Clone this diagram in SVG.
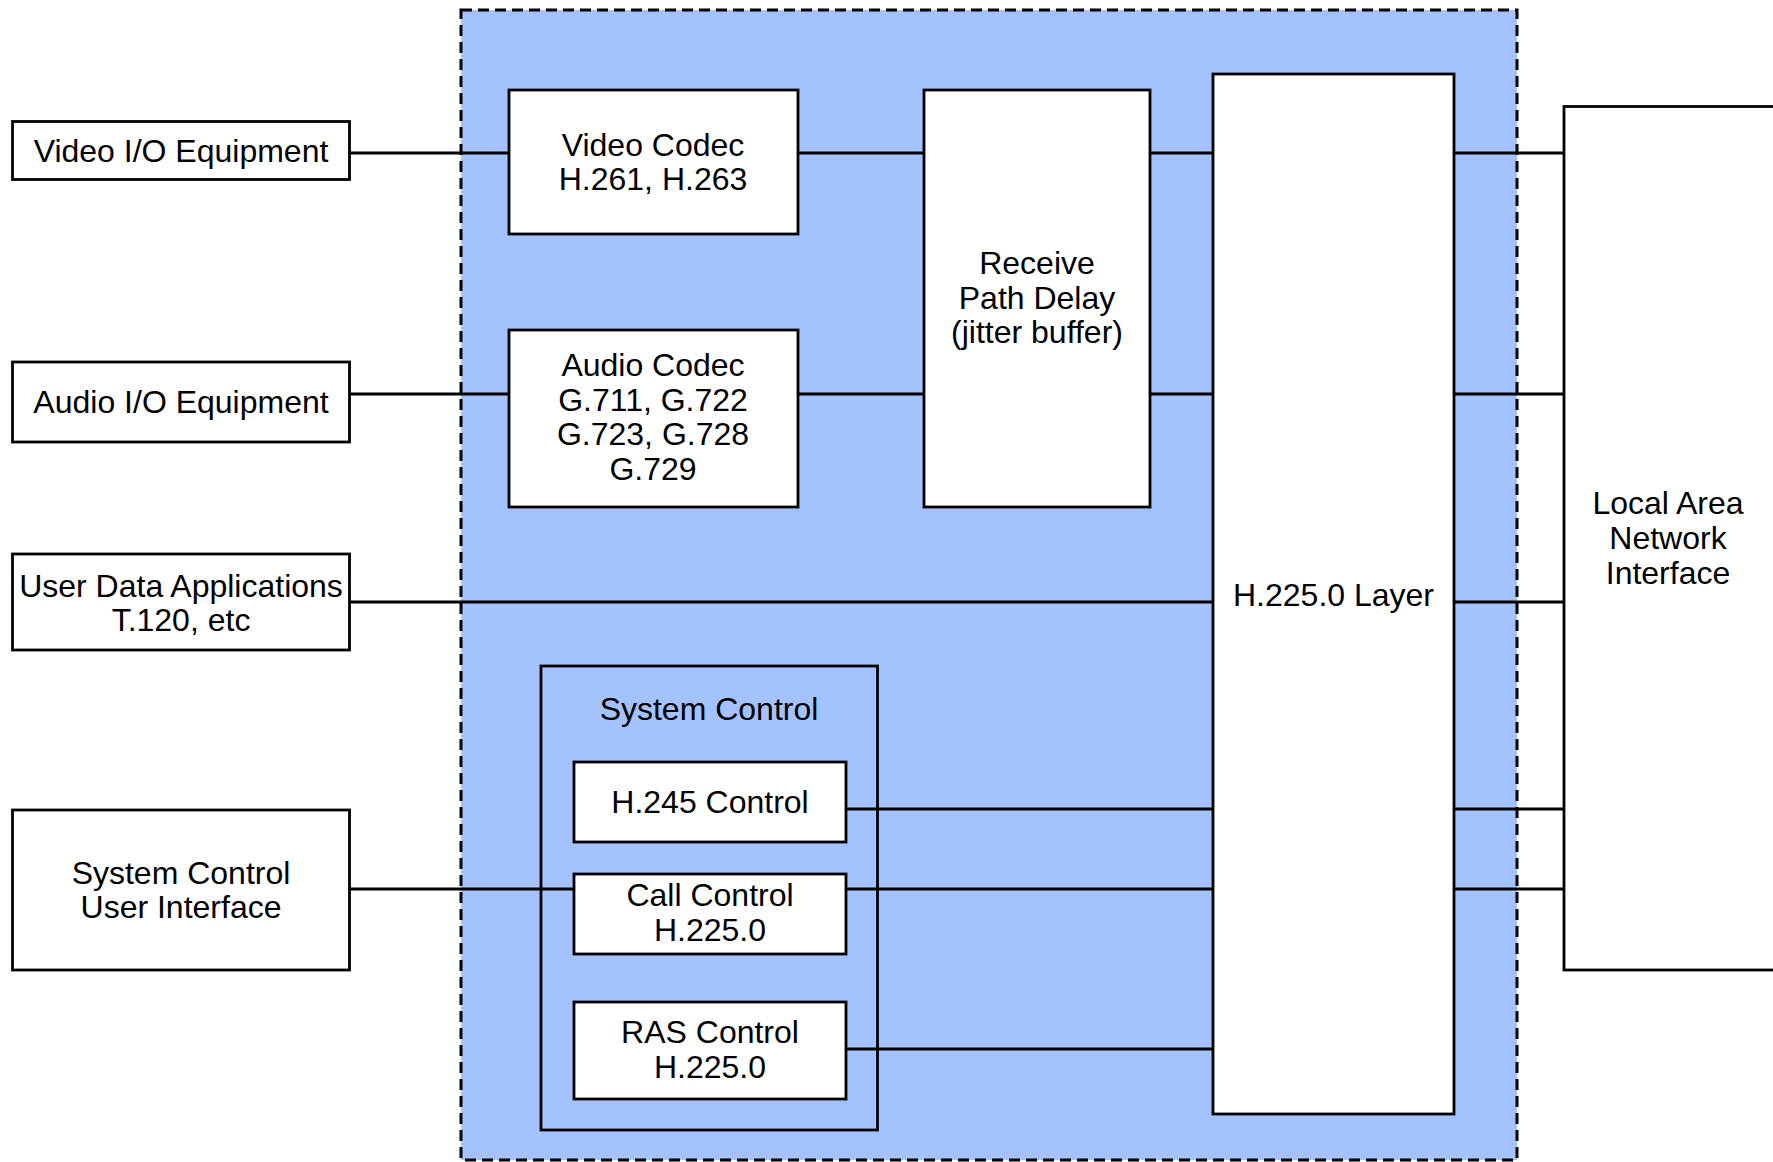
<svg xmlns="http://www.w3.org/2000/svg" width="1773" height="1162" viewBox="0 0 1773 1162">
<style>
.box{fill:#ffffff;stroke:#000000;stroke-width:2.8}
.cont{fill:none;stroke:#000000;stroke-width:2.8}
.conn{stroke:#000000;stroke-width:2.8;fill:none}
text{font-family:"Liberation Sans",Arial,sans-serif;font-size:32px;fill:#000000;text-anchor:middle}
</style>
<rect width="1773" height="1162" fill="#ffffff"/>
<g id="terminal">
<rect x="461" y="10" width="1056" height="1150" fill="#a4c2ff" stroke="#000000" stroke-width="3" stroke-dasharray="11 6"/>
</g>
<g id="connectors">
<path class="conn" d="M350,153H509M798,153H924M1150,153H1213M1454,153H1564"/>
<path class="conn" d="M350,394H509M798,394H924M1150,394H1213M1454,394H1564"/>
<path class="conn" d="M350,602H1213M1454,602H1564"/>
<path class="conn" d="M846,809H1213M1454,809H1564"/>
<path class="conn" d="M350,889H574M846,889H1213M1454,889H1564"/>
<path class="conn" d="M846,1049H1213"/>
</g>
<g id="video-io"><rect class="box" x="12.5" y="121.5" width="337" height="58"/><text x="181" y="162">Video I/O Equipment</text></g>
<g id="audio-io"><rect class="box" x="12.5" y="362" width="337" height="80"/><text x="181" y="413">Audio I/O Equipment</text></g>
<g id="user-data"><rect class="box" x="12.5" y="554" width="337" height="96"/><text x="181" y="597">User Data Applications</text><text x="181" y="631">T.120, etc</text></g>
<g id="scui"><rect class="box" x="12.5" y="810" width="337" height="160"/><text x="181" y="884">System Control</text><text x="181" y="918">User Interface</text></g>
<g id="video-codec"><rect class="box" x="509" y="90" width="289" height="144"/><text x="653" y="156">Video Codec</text><text x="653" y="190">H.261, H.263</text></g>
<g id="audio-codec"><rect class="box" x="509" y="330" width="289" height="177"/><text x="653" y="376">Audio Codec</text><text x="653" y="411">G.711, G.722</text><text x="653" y="445">G.723, G.728</text><text x="653" y="480">G.729</text></g>
<g id="receive-delay"><rect class="box" x="924" y="90" width="226" height="417"/><text x="1037" y="274">Receive</text><text x="1037" y="309">Path Delay</text><text x="1037" y="343">(jitter buffer)</text></g>
<g id="system-control"><rect class="cont" x="541" y="666" width="336.5" height="464"/><text x="709" y="720">System Control</text></g>
<g id="h245"><rect class="box" x="574" y="762" width="272" height="80"/><text x="710" y="813">H.245 Control</text></g>
<g id="call-control"><rect class="box" x="574" y="874" width="272" height="80"/><text x="710" y="906">Call Control</text><text x="710" y="941">H.225.0</text></g>
<g id="ras-control"><rect class="box" x="574" y="1002" width="272" height="97"/><text x="710" y="1043">RAS Control</text><text x="710" y="1078">H.225.0</text></g>
<g id="h225-layer"><rect class="box" x="1213" y="74" width="241" height="1040"/><text x="1333.5" y="606">H.225.0 Layer</text></g>
<g id="lan"><rect class="box" x="1564" y="106.5" width="212" height="863.5" stroke-width="2.2"/><text x="1668" y="514">Local Area</text><text x="1668" y="549">Network</text><text x="1668" y="584">Interface</text></g>
</svg>
